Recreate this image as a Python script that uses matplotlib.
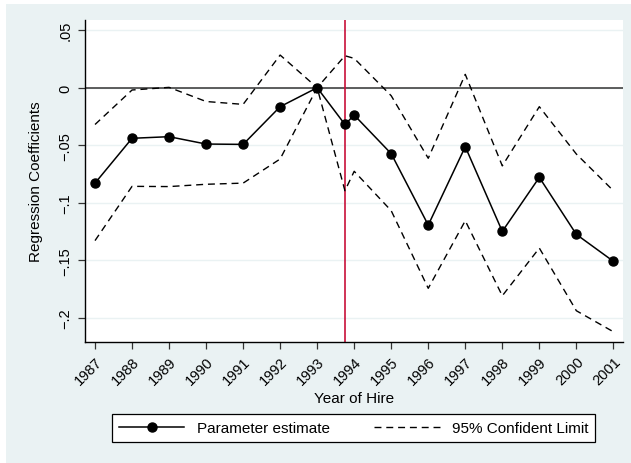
import numpy as np
import matplotlib.pyplot as plt
from matplotlib.patches import Rectangle

plt.rcParams['font.family'] = ['Liberation Sans', 'DejaVu Sans']

# anni (1993.75 = punto sulla linea rossa)
years = [1987, 1988, 1989, 1990, 1991, 1992, 1993, 1993.75, 1994,
         1995, 1996, 1997, 1998, 1999, 2000, 2001]
estimate = [-0.083, -0.044, -0.0426, -0.049, -0.0493, -0.0165, 0.0, -0.032, -0.0238,
            -0.0574, -0.1195, -0.0513, -0.125, -0.078, -0.1276, -0.151]
upper_ci = [-0.032, -0.002, 0.0003, -0.012, -0.0145, 0.0284, 0.0, 0.0278, 0.0255,
            -0.007, -0.0614, 0.0116, -0.068, -0.0165, -0.0577, -0.0896]
lower_ci = [-0.133, -0.0858, -0.086, -0.084, -0.083, -0.062, 0.0, -0.0896, -0.0727,
            -0.107, -0.1745, -0.1157, -0.181, -0.1395, -0.194, -0.2123]
break_year = 1993.75

xticks = list(range(1987, 2002))
yticks = [0.05, 0, -0.05, -0.1, -0.15, -0.2]
ylabels = ['.05', '0', '\u2212.05', '\u2212.1', '\u2212.15', '\u2212.2']

bg = '#eaf2f3'
fig = plt.figure(figsize=(6.31, 4.64), dpi=100, facecolor='white')
fig.patches.append(Rectangle((6 / 631, 0), 1, 1 - 5 / 464, transform=fig.transFigure,
                             facecolor=bg, edgecolor='none', zorder=-5))

ax = fig.add_axes([84.5 / 631, 1 - 343 / 464, (623 - 84.5) / 631, (343 - 21) / 464])
ax.set_facecolor('white')

for yv in yticks:
    ax.axhline(yv, color=bg, lw=1.0, zorder=0)
ax.axhline(0, color='#333333', lw=1.1, zorder=1)
ax.axvline(break_year, color='#c8103a', lw=1.2, zorder=2)

ax.plot(years, upper_ci, color='black', lw=1.0, dashes=(5, 3.5), zorder=3,
        label='95% Confident Limit')
ax.plot(years, lower_ci, color='black', lw=1.0, dashes=(5, 3.5), zorder=3)
ax.plot(years, estimate, color='black', lw=1.1, marker='o', ms=6.5, zorder=4,
        label='Parameter estimate')

ax.set_xlim(1986.716, 2001.26)
ax.set_ylim(-0.2212, 0.0589)
ax.set_xticks(xticks)
ax.set_xticklabels([str(x) for x in xticks], rotation=45, ha='right',
                   rotation_mode='anchor', fontsize=10.5)
ax.set_yticks(yticks)
ax.set_yticklabels(ylabels, rotation=90, va='center', fontsize=10.5)
ax.tick_params(direction='out', length=5, width=0.9, color='#333333')

for s in ['top', 'right']:
    ax.spines[s].set_visible(False)
for s in ['left', 'bottom']:
    ax.spines[s].set_color('black')
    ax.spines[s].set_linewidth(1.0)

ax.set_xlabel('Year of Hire', fontsize=11, labelpad=3)
ax.set_ylabel('Regression Coefficients', fontsize=11, labelpad=11)

handles, labels = ax.get_legend_handles_labels()
leg = fig.legend(handles[::-1], labels[::-1], loc='center',
                 bbox_to_anchor=((117 + 590) / 2 / 631, 1 - 429 / 464),
                 ncol=2, fontsize=11, frameon=True, fancybox=False,
                 handlelength=4.3, handletextpad=0.8, columnspacing=2.9,
                 borderpad=0.45, borderaxespad=0)
leg.get_frame().set_edgecolor('black')
leg.get_frame().set_linewidth(0.9)
leg.get_frame().set_alpha(1)

fig.savefig('out.png', dpi=100, facecolor=fig.get_facecolor())
